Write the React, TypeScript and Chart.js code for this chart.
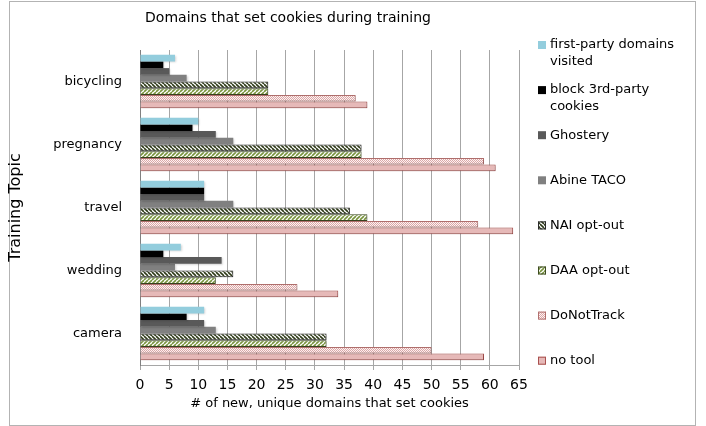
import React, { useEffect, useRef } from 'react';
import { Chart, registerables } from 'chart.js';

Chart.register(...registerables);

const categories = ['bicycling', 'pregnancy', 'travel', 'wedding', 'camera'];
const seriesNames = [
  'first-party domains visited',
  'block 3rd-party cookies',
  'Ghostery',
  'Abine TACO',
  'NAI opt-out',
  'DAA opt-out',
  'DoNotTrack',
  'no tool',
];
const firstParty = [6, 10, 11, 7, 11];
const block3rd = [4, 9, 11, 4, 8];
const ghostery = [5, 13, 11, 14, 11];
const abineTaco = [8, 16, 16, 6, 13];
const naiOptOut = [22, 38, 36, 16, 32];
const daaOptOut = [22, 38, 39, 13, 32];
const doNotTrack = [37, 59, 58, 27, 50];
const noTool = [39, 61, 64, 34, 59];
const xMin = 0;
const xMax = 65;
const xStep = 5;

const chartTitle = 'Domains that set cookies during training';
const xTitle = '# of new, unique domains that set cookies';
const yTitle = 'Training Topic';

const FONT = '"DejaVu Sans", "Liberation Sans", sans-serif';

function stripePattern(ctx: CanvasRenderingContext2D, bg: string, fg: string, dir: string, size: number, lw: number) {
  const c = document.createElement('canvas');
  c.width = size;
  c.height = size;
  const g = c.getContext('2d')!;
  g.fillStyle = bg;
  g.fillRect(0, 0, size, size);
  g.strokeStyle = fg;
  g.lineWidth = lw;
  g.beginPath();
  for (const o of [-size, 0, size]) {
    if (dir === '\\') {
      g.moveTo(o, 0);
      g.lineTo(o + size, size);
    } else {
      g.moveTo(o, size);
      g.lineTo(o + size, 0);
    }
  }
  g.stroke();
  return ctx.createPattern(c, 'repeat')!;
}

function dotPattern(ctx: CanvasRenderingContext2D, bg: string, fg: string) {
  const c = document.createElement('canvas');
  c.width = 2;
  c.height = 2;
  const g = c.getContext('2d')!;
  g.fillStyle = bg;
  g.fillRect(0, 0, 2, 2);
  g.fillStyle = fg;
  g.fillRect(0, 0, 1, 1);
  g.fillRect(1, 1, 1, 1);
  return ctx.createPattern(c, 'repeat')!;
}

export default function App() {
  const ref = useRef<HTMLCanvasElement>(null);

  useEffect(() => {
    document.body.style.margin = '0';
    const canvas = ref.current!;
    const ctx = canvas.getContext('2d')!;

    const fills: any[] = [
      '#93cddd',
      '#000000',
      '#595959',
      '#808080',
      stripePattern(ctx, '#ffffff', '#2e3a18', '\\', 4, 1.6),
      stripePattern(ctx, '#ffffff', '#77933c', '/', 4, 1.6),
      dotPattern(ctx, '#fdf3f3', '#dba8a7'),
      '#e6b9b8',
    ];
    const borders = ['#93cddd', '#000000', '#595959', '#808080', '#2b2b2b', '#3d4a22', '#b2706e', '#a9504e'];
    const borderWidths = [0, 0, 0, 0, 1, 1, 1, 1];
    const values = [firstParty, block3rd, ghostery, abineTaco, naiOptOut, daaOptOut, doNotTrack, noTool];

    const datasets = seriesNames.map((name, i) => ({
      label: name,
      data: values[i],
      backgroundColor: fills[i],
      borderColor: borders[i],
      borderWidth: borderWidths[i],
      categoryPercentage: 0.85,
      barPercentage: 1,
    }));

    const decor = {
      id: 'decor',
      beforeDatasetsDraw(chart: any) {
        const c = chart.ctx;
        c.save();
        c.shadowColor = 'rgba(0,0,0,0.18)';
        c.shadowOffsetX = 1;
        c.shadowOffsetY = 1;
        c.shadowBlur = 2;
      },
      afterDatasetsDraw(chart: any) {
        chart.ctx.restore();
      },
      afterDraw(chart: any) {
        const c: CanvasRenderingContext2D = chart.ctx;
        const area = chart.chartArea;
        c.save();
        // outer frame
        c.strokeStyle = '#b3b3b3';
        c.lineWidth = 1;
        c.strokeRect(9.5, 1.5, 686, 424);
        c.fillStyle = '#000';
        c.textAlign = 'center';
        c.textBaseline = 'middle';
        // title
        c.font = `14px ${FONT}`;
        c.fillText(chartTitle, 288, 18);
        // x title
        c.font = `13px ${FONT}`;
        c.fillText(xTitle, (area.left + area.right) / 2, 404);
        // y title
        c.save();
        c.translate(16, (area.top + area.bottom) / 2);
        c.rotate(-Math.PI / 2);
        c.font = `16px ${FONT}`;
        c.fillText(yTitle, 0, 0);
        c.restore();
        // legend
        c.textAlign = 'left';
        c.font = `13px ${FONT}`;
        const maxW = 140;
        seriesNames.forEach((name, i) => {
          const y0 = 45 + i * 45.1;
          const words = name.split(' ');
          const lines: string[] = [];
          let cur = '';
          for (const w of words) {
            const t = cur ? cur + ' ' + w : w;
            if (cur && c.measureText(t).width > maxW) {
              lines.push(cur);
              cur = w;
            } else cur = t;
          }
          if (cur) lines.push(cur);
          c.fillStyle = fills[i];
          c.fillRect(538, y0 - 4, 8, 8);
          if (borderWidths[i]) {
            c.strokeStyle = borders[i];
            c.strokeRect(538.5, y0 - 3.5, 7, 7);
          }
          c.fillStyle = '#000';
          lines.forEach((ln, k) => c.fillText(ln, 550, y0 + k * 16.5));
        });
        c.restore();
      },
    };

    const chart = new Chart(ctx, {
      type: 'bar',
      data: { labels: categories, datasets },
      options: {
        indexAxis: 'y',
        responsive: false,
        animation: false,
        layout: { padding: { top: 50, right: 187, left: 0, bottom: 0 } },
        plugins: {
          legend: { display: false },
          title: { display: false },
          tooltip: { enabled: false },
        },
        scales: {
          x: {
            min: xMin,
            max: xMax,
            ticks: {
              stepSize: xStep,
              color: '#000',
              font: { family: FONT, size: 14 },
              padding: 7,
              maxRotation: 0,
              autoSkip: false,
            },
            grid: { color: '#a6a6a6', tickLength: 5, drawTicks: true },
            border: { display: true, color: '#a6a6a6' },
            afterFit: (s: any) => {
              s.height = 61;
            },
          },
          y: {
            ticks: { color: '#000', font: { family: FONT, size: 13 }, padding: 18 },
            grid: { display: false, drawTicks: false },
            border: { display: true, color: '#808080' },
            afterFit: (s: any) => {
              s.width = 140;
            },
          },
        },
      } as any,
      plugins: [decor],
    });
    return () => chart.destroy();
  }, []);

  return (
    <div style={{ width: 706, height: 426 }}>
      <canvas ref={ref} width={706} height={426} style={{ display: 'block', width: 706, height: 426 }} />
    </div>
  );
}
